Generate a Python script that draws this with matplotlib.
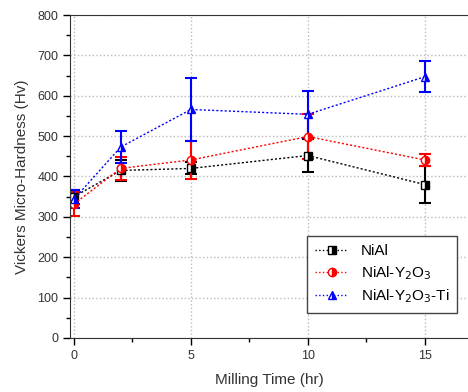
import numpy as np
from matplotlib import pyplot as plt
from matplotlib.ticker import MultipleLocator
from matplotlib.lines import Line2D

plt.rcParams['font.family'] = ['Liberation Sans', 'DejaVu Sans']

# milling time (hr)
time = [0, 2, 5, 10, 15]

nial = [350, 415, 420, 452, 380]
nial_err = [17, 25, 15, 42, 45]

nial_y = [332, 420, 441, 499, 441]
nial_y_err = [30, 29, 46, 55, 14]

nial_y_ti = [344, 473, 566, 554, 647]
nial_y_ti_err = [22, 40, 77, 58, 38]

labels = ['NiAl', 'NiAl-Y$_2$O$_3$', 'NiAl-Y$_2$O$_3$-Ti']

fig = plt.figure(figsize=(4.68, 3.92), dpi=100)
ax = fig.add_axes([0.1496, 0.1378, 0.8504, 0.8239])

series = [
    (nial, nial_err, 'black', 's', labels[0]),
    (nial_y, nial_y_err, 'red', 'o', labels[1]),
    (nial_y_ti, nial_y_ti_err, 'blue', '^', labels[2]),
]
handles = []
for vals, errs, col, mk, lab in series:
    ax.errorbar(time, vals, yerr=errs, color=col, ls=(0, (1.5, 1.5)), lw=1.0,
                marker=mk, ms=6, fillstyle='right', markerfacecoloralt='white',
                mec=col, ecolor=col, elinewidth=1.5, capsize=4, capthick=1.5)
    handles.append(Line2D([], [], color=col, ls=':', lw=1.0, marker=mk, ms=6,
                          fillstyle='right', markerfacecoloralt='white',
                          mec=col, label=lab))

ax.set_xlim(-0.17, 16.85)
ax.set_ylim(0, 800)
ax.xaxis.set_major_locator(MultipleLocator(5))
ax.xaxis.set_minor_locator(MultipleLocator(2.5))
ax.yaxis.set_major_locator(MultipleLocator(100))
ax.yaxis.set_minor_locator(MultipleLocator(50))
ax.tick_params(which='major', direction='out', length=5, width=1, labelsize=9,
               labelcolor='#333333')
ax.tick_params(which='minor', direction='out', length=3, width=1)
ax.grid(True, which='major', ls=':', color='#bbbbbb', lw=1)
ax.spines['right'].set_visible(False)
for s in ['left', 'bottom', 'top']:
    ax.spines[s].set_color('#333333')

ax.set_xlabel('Milling Time (hr)', fontsize=11, color='#333333', labelpad=8)
ax.set_ylabel('Vickers Micro-Hardness (Hv)', fontsize=11, color='#333333', labelpad=6)

leg = ax.legend(handles=handles, loc='lower right', bbox_to_anchor=(0.972, 0.077),
                borderaxespad=0, fontsize=11, fancybox=False, edgecolor='#444444',
                framealpha=1, handlelength=2.2, borderpad=0.5, labelspacing=0.4)
leg.get_frame().set_linewidth(1.0)

fig.savefig('out.png', dpi=100)
